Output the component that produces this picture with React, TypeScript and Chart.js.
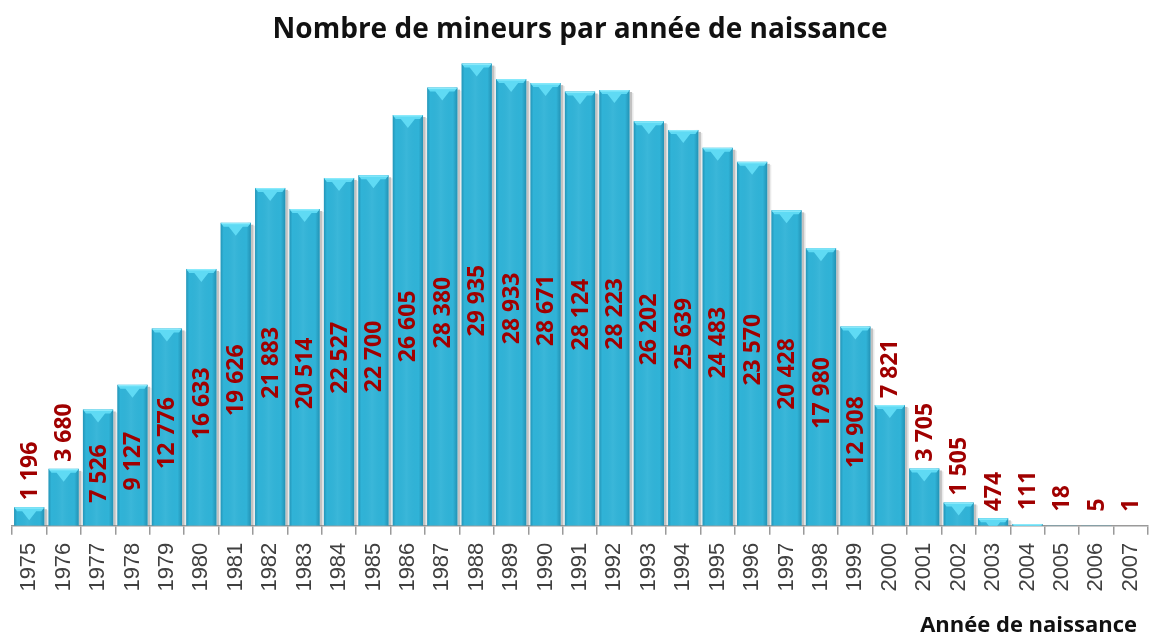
import React, { useEffect, useRef } from "react";
import { Chart, registerables } from "chart.js";

Chart.register(...registerables);

const years: string[] = [
  "1975", "1976", "1977", "1978", "1979", "1980", "1981", "1982", "1983", "1984", "1985",
  "1986", "1987", "1988", "1989", "1990", "1991", "1992", "1993", "1994", "1995", "1996",
  "1997", "1998", "1999", "2000", "2001", "2002", "2003", "2004", "2005", "2006", "2007",
];

const minors: number[] = [
  1196, 3680, 7526, 9127, 12776, 16633, 19626, 21883, 20514, 22527, 22700,
  26605, 28380, 29935, 28933, 28671, 28124, 28223, 26202, 25639, 24483, 23570,
  20428, 17980, 12908, 7821, 3705, 1505, 474, 111, 18, 5, 1,
];

// categories whose value label sits above the bar
const labelsAbove: string[] = [
  "1975", "1976", "2000", "2001", "2002", "2003", "2004", "2005", "2006", "2007",
];

const titleText = "Nombre de mineurs par année de naissance";
const axisTitleText = "Année de naissance";

const fmt = (v: number) => String(v).replace(/\B(?=(\d{3})+(?!\d))/g, " ");

const barDecor = {
  id: "barDecor",
  beforeDatasetsDraw(chart: any) {
    const ctx = chart.ctx;
    const meta = chart.getDatasetMeta(0);
    ctx.save();
    meta.data.forEach((bar: any) => {
      const { x, y, base, width } = bar.getProps(["x", "y", "base", "width"], true);
      const h = base - y;
      if (h < 0.5) return;
      const right = x + width / 2;
      ctx.fillStyle = "rgba(120,120,120,0.45)";
      ctx.fillRect(right, y + 2, 2.5, h - 2);
      ctx.fillStyle = "rgba(170,170,170,0.25)";
      ctx.fillRect(right + 2.5, y + 3, 1.5, h - 3);
    });
    ctx.restore();
  },
  afterDatasetsDraw(chart: any) {
    const ctx = chart.ctx;
    const meta = chart.getDatasetMeta(0);
    ctx.save();
    meta.data.forEach((bar: any) => {
      const { x, y, base, width } = bar.getProps(["x", "y", "base", "width"], true);
      const h = base - y;
      if (h < 0.5) return;
      const left = x - width / 2;
      const right = x + width / 2;
      // edge shading
      const g = ctx.createLinearGradient(left, 0, right, 0);
      g.addColorStop(0, "rgba(0,60,90,0.25)");
      g.addColorStop(0.1, "rgba(0,60,90,0.0)");
      g.addColorStop(0.45, "rgba(255,255,255,0.05)");
      g.addColorStop(0.85, "rgba(0,60,90,0.0)");
      g.addColorStop(1, "rgba(0,60,90,0.28)");
      ctx.fillStyle = g;
      ctx.fillRect(left, y, width, h);
      // bevel cap
      ctx.save();
      ctx.beginPath();
      ctx.rect(left, y, width, h);
      ctx.clip();
      ctx.fillStyle = "#5fdaf4";
      ctx.beginPath();
      ctx.moveTo(left, y);
      ctx.lineTo(right, y);
      ctx.lineTo(right - 3, y + 4);
      ctx.lineTo(x + 7, y + 4);
      ctx.lineTo(x, y + 13);
      ctx.lineTo(x - 7, y + 4);
      ctx.lineTo(left + 3, y + 4);
      ctx.closePath();
      ctx.fill();
      ctx.fillStyle = "#8aeafb";
      ctx.fillRect(left + 1, y, width - 2, 1.5);
      ctx.restore();
    });
    ctx.restore();
  },
};

const valueLabels = {
  id: "valueLabels",
  afterDatasetsDraw(chart: any) {
    const ctx = chart.ctx;
    const meta = chart.getDatasetMeta(0);
    const data = chart.data.datasets[0].data as number[];
    const labels = chart.data.labels as string[];
    ctx.save();
    ctx.fillStyle = "#a00000";
    ctx.font = "bold 23px 'Open Sans'";
    ctx.textBaseline = "middle";
    meta.data.forEach((bar: any, i: number) => {
      const { x, y, base } = bar.getProps(["x", "y", "base"], true);
      const text = fmt(data[i]);
      ctx.save();
      if (labelsAbove.includes(labels[i])) {
        const gap = base - y < 3 ? 14 : 7;
        ctx.translate(x, y - gap);
        ctx.rotate(-Math.PI / 2);
        ctx.textAlign = "left";
      } else {
        ctx.translate(x, (y + base) / 2 + 6);
        ctx.rotate(-Math.PI / 2);
        ctx.textAlign = "center";
      }
      ctx.fillText(text, 0, 1);
      ctx.restore();
    });
    ctx.restore();
  },
};

export default function App() {
  const ref = useRef<HTMLCanvasElement | null>(null);
  useEffect(() => {
    if (!ref.current) return;
    const chart = new Chart(ref.current, {
      type: "bar",
      data: {
        labels: years,
        datasets: [
          {
            data: minors,
            backgroundColor: "#30b3d7",
            borderWidth: 0,
            barPercentage: 0.88,
            categoryPercentage: 1.0,
          },
        ],
      },
      options: {
        animation: false,
        responsive: true,
        maintainAspectRatio: false,
        layout: { padding: { left: 12, right: 2, top: 0, bottom: 0 } },
        plugins: {
          legend: { display: false },
          tooltip: { enabled: false },
          title: {
            display: true,
            text: titleText,
            color: "#111111",
            font: { family: "'Open Sans'", size: 28, weight: "bold" },
            padding: { top: 13, bottom: 16 },
          },
        },
        scales: {
          y: { display: false, min: 0, max: 30000 },
          x: {
            offset: true,
            afterFit: (scale: any) => {
              scale.paddingLeft = 0;
              scale.paddingRight = 0;
            },
            grid: {
              offset: true,
              drawOnChartArea: false,
              drawTicks: true,
              tickLength: 9,
              color: "#9a9a9a",
              lineWidth: 1.5,
            },
            border: { display: true, color: "#9a9a9a", width: 1.5 },
            ticks: {
              minRotation: 90,
              maxRotation: 90,
              padding: 8,
              color: "#404040",
              font: { family: "'Liberation Sans'", size: 22 },
              autoSkip: false,
            },
            title: {
              display: true,
              text: axisTitleText + "\u2002",
              align: "end",
              color: "#111111",
              font: { family: "'Open Sans'", size: 22, weight: "bold" },
              padding: { top: 13, bottom: 0 },
            },
          },
        },
      },
      plugins: [barDecor, valueLabels],
    });
    return () => chart.destroy();
  }, []);
  return (
    <div style={{ position: "fixed", left: 0, top: 0, width: 1150, height: 639, background: "#ffffff" }}>
      <canvas ref={ref} />
    </div>
  );
}
